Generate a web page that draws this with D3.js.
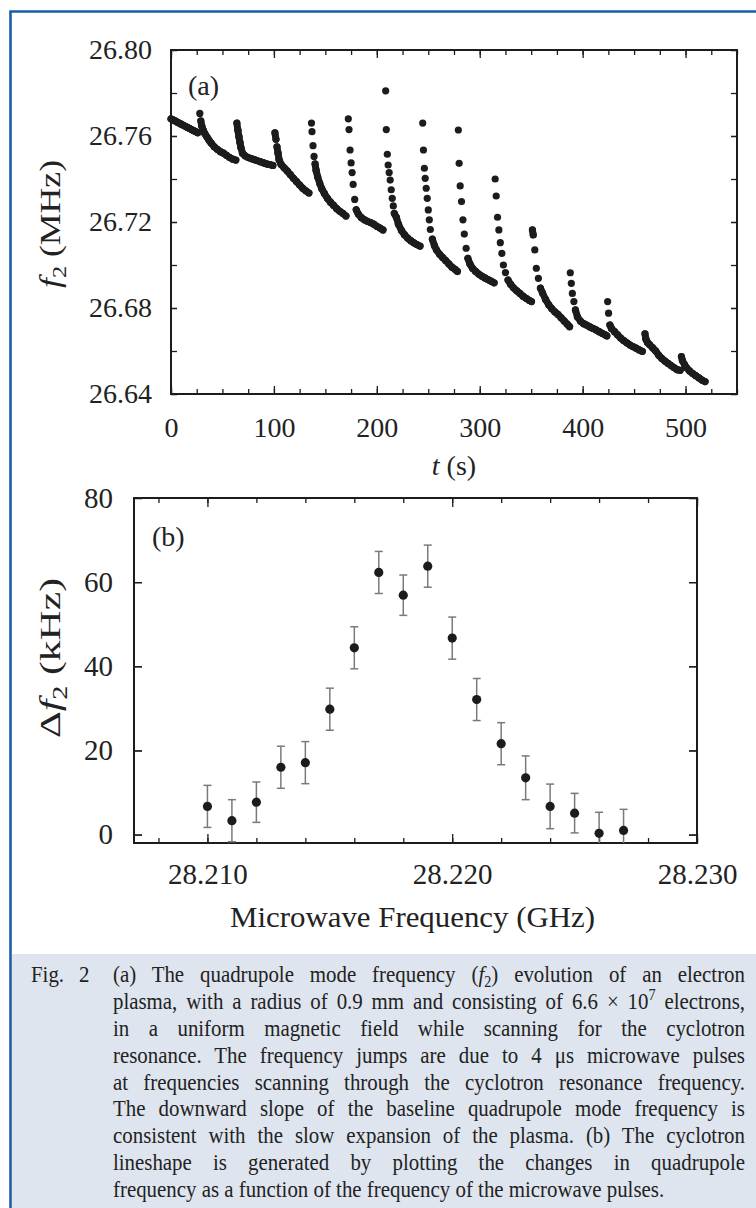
<!DOCTYPE html>
<html>
<head>
<meta charset="utf-8">
<script src="https://cdn.jsdelivr.net/npm/d3@7"></script>
<style>
  body { margin: 0; background: #fff; }
  svg text { font-family: "Liberation Serif", "Times New Roman", serif; fill: #222; }
  .ax text { font-size: 28px; }
  .axb text { font-size: 29px; }
</style>
</head>
<body>
<svg id="fig" width="756" height="1208"></svg>
<script>
// ---- panel (a): f2 (MHz) against t (s), one array per microwave pulse sweep
const sweep0 = [[0,26.768],[2,26.7675],[4,26.767],[6,26.7665],[8,26.766],[10,26.7655],[12,26.765],[14,26.7645],[16,26.764],[18,26.7635],[20,26.763],[22,26.7625],[24,26.762],[26,26.7615]];
const sweep1 = [[28,26.7705],[29,26.767],[30,26.7645],[31.5,26.7625],[33,26.761],[35,26.7595],[37,26.758],[39,26.7567],[42,26.755],[45,26.7538],[48,26.7527],[51,26.752],[54,26.751],[57,26.75],[60,26.7492],[63,26.7488]];
const sweep2 = [[64,26.766],[65,26.7627],[66,26.7597],[67,26.757],[68,26.7545],[69.5,26.752],[72,26.7508],[75,26.75],[78,26.7495],[81,26.749],[84,26.7485],[87,26.748],[90,26.7475],[93,26.747],[96,26.7467],[99,26.7463]];
const sweep3 = [[101,26.7615],[102,26.7585],[103,26.755],[104,26.752],[105,26.749],[107,26.7468],[110,26.7452],[113,26.7437],[116,26.742],[119,26.7403],[122,26.7388],[125,26.7372],[128,26.7357],[131,26.7345],[134,26.7335]];
const sweep4 = [[136.5,26.766],[137,26.762],[138,26.7555],[139,26.7505],[140,26.747],[141,26.744],[142.5,26.741],[144.5,26.738],[146.5,26.7355],[149,26.7333],[152,26.731],[155,26.7292],[158,26.7277],[161,26.7262],[164,26.725],[167,26.724],[170,26.7228]];
const sweep5 = [[172.3,26.768],[173,26.763],[174,26.7535],[175,26.7475],[176,26.743],[177,26.7375],[178.5,26.7305],[180,26.7257],[182,26.7237],[185,26.722],[188,26.721],[191,26.7203],[194,26.7197],[197,26.719],[200,26.718],[203,26.7172],[206,26.7163]];
const sweep6 = [[208.6,26.781],[209.2,26.763],[210.2,26.7515],[211,26.7465],[212,26.743],[213,26.7395],[214,26.735],[215,26.731],[216,26.7275],[217,26.724],[219,26.7222],[221,26.719],[224,26.716],[227,26.714],[230,26.7125],[233,26.7113],[236,26.7103],[239,26.7095],[242,26.7088]];
const sweep7 = [[244.6,26.766],[245.3,26.7535],[246.2,26.745],[247,26.7403],[248,26.7357],[249,26.731],[250,26.7256],[251,26.721],[252,26.7165],[254,26.712],[256,26.709],[258,26.707],[261,26.705],[264,26.7035],[267,26.702],[270,26.7005],[273,26.699],[276,26.698],[278.3,26.697]];
const sweep8 = [[279.2,26.7628],[280,26.7473],[281,26.7368],[282.3,26.7295],[283.7,26.721],[285,26.7144],[286.8,26.7078],[288.5,26.7031],[290.5,26.7005],[293,26.6985],[296,26.697],[299,26.6958],[302,26.6948],[305,26.694],[308,26.6932],[311,26.6925],[314,26.6917]];
const sweep9 = [[315,26.74],[316,26.7321],[317.3,26.7222],[318.6,26.7163],[320,26.7104],[321.5,26.7054],[323,26.7],[325,26.6965],[327.5,26.693],[330,26.691],[333,26.6893],[336,26.688],[339,26.6868],[342,26.6855],[345,26.6845],[348,26.6836],[350.3,26.683]];
const sweep10 = [[351.2,26.7163],[352,26.714],[353.5,26.707],[355,26.6985],[357,26.6938],[359,26.6892],[361,26.687],[364,26.684],[367,26.6815],[370,26.6797],[373,26.6782],[376,26.677],[379,26.6755],[382,26.674],[385,26.6725],[387.3,26.6713]];
const sweep11 = [[388,26.6964],[389,26.6915],[390,26.6868],[391.5,26.683],[393,26.6791],[395,26.6758],[398,26.6738],[401,26.6727],[404,26.672],[407,26.6712],[410,26.6705],[413,26.6698],[416,26.669],[419,26.6682],[422,26.6675],[423.5,26.667]];
const sweep12 = [[424.3,26.683],[425.2,26.6776],[426.5,26.6721],[428,26.6705],[431,26.669],[434,26.6675],[437,26.666],[440,26.6648],[443,26.6638],[446,26.6628],[449,26.662],[452,26.6613],[455,26.6605],[458,26.6598]];
const sweep13 = [[460.6,26.668],[461.5,26.6655],[463,26.664],[465,26.663],[468,26.6615],[471,26.66],[474,26.658],[477,26.6565],[480,26.6553],[483,26.6542],[486,26.6532],[489,26.6522],[492,26.6513],[494.8,26.651]];
const sweep14 = [[496,26.6574],[497,26.6555],[499,26.6537],[501,26.6522],[504,26.6507],[507,26.6495],[510,26.6485],[513,26.6475],[516,26.6465],[519,26.6458]];
const sweeps = [sweep0, sweep1, sweep2, sweep3, sweep4, sweep5, sweep6, sweep7, sweep8, sweep9, sweep10, sweep11, sweep12, sweep13, sweep14];

const tMinorTicks = d3.range(0, 551, 25);
const tMajorTicks = [0, 100, 200, 300, 400, 500];
const f2Ticks = [26.64, 26.66, 26.68, 26.70, 26.72, 26.74, 26.76, 26.78, 26.80];
const f2LabelTicks = [26.64, 26.68, 26.72, 26.76, 26.80];

// ---- panel (b): cyclotron lineshape
const mwFreq = [28.210, 28.211, 28.212, 28.213, 28.214, 28.215, 28.216, 28.217, 28.218, 28.219, 28.220, 28.221, 28.222, 28.223, 28.224, 28.225, 28.226, 28.227];
const deltaF2 = [6.7, 3.3, 7.7, 16.0, 17.1, 29.8, 44.4, 62.3, 56.9, 63.8, 46.7, 32.1, 21.6, 13.5, 6.7, 5.1, 0.3, 1.0];
const deltaErr = [5.0, 5.0, 4.8, 5.0, 5.0, 5.0, 5.0, 5.0, 4.8, 5.0, 5.0, 5.0, 5.0, 5.2, 5.3, 4.7, 5.0, 5.0];
const mwMinorTicks = [28.208, 28.210, 28.212, 28.214, 28.216, 28.218, 28.220, 28.222, 28.224, 28.226, 28.228, 28.230];
const mwLabelTicks = [28.210, 28.220, 28.230];
const dfTicks = [0, 20, 40, 60, 80];

const captionLines = [
  ["(a) The quadrupole mode frequency (", ["i", "f"], ["sub", "2"], ") evolution of an electron"],
  ["plasma, with a radius of 0.9 mm and consisting of 6.6 \u00d7 10", ["sup", "7"], " electrons,"],
  ["in a uniform magnetic field while scanning for the cyclotron"],
  ["resonance. The frequency jumps are due to 4 \u03bcs microwave pulses"],
  ["at frequencies scanning through the cyclotron resonance frequency."],
  ["The downward slope of the baseline quadrupole mode frequency is"],
  ["consistent with the slow expansion of the plasma. (b) The cyclotron"],
  ["lineshape is generated by plotting the changes in quadrupole"],
  ["frequency as a function of the frequency of the microwave pulses."]
];

const svg = d3.select("#fig");
const ink = "#1c1c1c";

// page frame and caption box
svg.append("rect").attr("x", 12).attr("y", 954).attr("width", 744).attr("height", 254).attr("fill", "#dfe5ef");
svg.append("path").attr("d", "M10.5,1208V11.5H756").attr("fill", "none").attr("stroke", "#1b5ea8").attr("stroke-width", 2.6);

function rich(t, parts, size) {
  let shift = 0;
  parts.forEach(p => {
    if (typeof p === "string") {
      t.append("tspan").attr("dy", -shift).text(p);
      shift = 0;
    } else if (p[0] === "i") {
      t.append("tspan").attr("font-style", "italic").text(p[1]);
    } else {
      const d = p[0] === "sub" ? size * 0.22 : -size * 0.36;
      t.append("tspan").attr("font-size", size * 0.68).attr("dy", d).text(p[1]);
      shift = d;
    }
  });
}

// inward ticks on all four sides of a plot box
function boxAxes(g, x, y, cls, spec) {
  const [x0, x1] = x.range(), [y0, y1] = y.range();
  const clean = s => s.select(".domain").remove();
  spec.forEach(s => {
    const bottom = d3.axisBottom(x).tickValues(s.xt).tickSize(-s.xs).tickFormat(s.xf || "").tickPadding(s.xp || 0);
    const top = d3.axisTop(x).tickValues(s.xt).tickSize(-s.xs).tickFormat("");
    const left = d3.axisLeft(y).tickValues(s.yt).tickSize(-s.ys).tickFormat(s.yf || "").tickPadding(s.yp || 0);
    const right = d3.axisRight(y).tickValues(s.yt).tickSize(-s.ys).tickFormat("");
    g.append("g").attr("class", cls).attr("color", ink).attr("transform", `translate(0,${y0})`).call(bottom).call(clean);
    g.append("g").attr("class", cls).attr("color", ink).attr("transform", `translate(0,${y1})`).call(top).call(clean);
    g.append("g").attr("class", cls).attr("color", ink).attr("transform", `translate(${x0},0)`).call(left).call(clean);
    g.append("g").attr("class", cls).attr("color", ink).attr("transform", `translate(${x1},0)`).call(right).call(clean);
  });
  g.selectAll(".tick line").attr("stroke-width", 1.3);
  g.append("rect").attr("x", x0).attr("y", y1).attr("width", x1 - x0).attr("height", y0 - y1)
    .attr("fill", "none").attr("stroke", ink).attr("stroke-width", 2);
}

// ---------- panel (a)
const xa = d3.scaleLinear().domain([0, 550]).range([171, 737]);
const ya = d3.scaleLinear().domain([26.64, 26.80]).range([394, 50]);
const ga = svg.append("g");

boxAxes(ga, xa, ya, "ax", [
  { xt: tMinorTicks, xs: 5, yt: f2Ticks, ys: 6 },
  { xt: tMajorTicks, xs: 8, xf: d3.format("d"), xp: 23, yt: f2LabelTicks, ys: 6, yf: d3.format(".2f"), yp: 19 }
]);

// neighbouring samples that overlap on screen merge into the thick baseline band
const links = sweeps.flatMap(s => d3.pairs(s))
  .filter(([a, b]) => Math.hypot(xa(b[0]) - xa(a[0]), ya(b[1]) - ya(a[1])) < 7.5);
ga.append("g").attr("stroke", ink).attr("stroke-width", 7).attr("stroke-linecap", "round")
  .selectAll("line").data(links).join("line")
  .attr("x1", d => xa(d[0][0])).attr("y1", d => ya(d[0][1]))
  .attr("x2", d => xa(d[1][0])).attr("y2", d => ya(d[1][1]));

ga.append("g").selectAll("circle")
  .data(sweeps.flat())
  .join("circle")
  .attr("cx", d => xa(d[0]))
  .attr("cy", d => ya(d[1]))
  .attr("r", 3.6)
  .attr("fill", ink);

ga.append("text").attr("x", 188).attr("y", 95).attr("font-size", 28).text("(a)");
ga.append("text").attr("x", 454).attr("y", 475).attr("text-anchor", "middle").attr("font-size", 28)
  .call(t => rich(t, [["i", "t"], " (s)"], 28));
ga.append("text").attr("transform", "translate(60,224) rotate(-90)").attr("text-anchor", "middle").attr("font-size", 29)
  .attr("textLength", 128).attr("lengthAdjust", "spacingAndGlyphs")
  .call(t => rich(t, [["i", "f"], ["sub", "2"], " (MHz)"], 29));

// ---------- panel (b)
const xb = d3.scaleLinear().domain([28.207, 28.230]).range([134, 697]);
const yb = d3.scaleLinear().domain([-2, 80]).range([843, 498]);
const gb = svg.append("g");

svg.append("clipPath").attr("id", "clipB").append("rect")
  .attr("x", 134).attr("y", 498).attr("width", 563).attr("height", 345);

boxAxes(gb, xb, yb, "axb", [
  { xt: mwMinorTicks, xs: 5, yt: dfTicks, ys: 8 },
  { xt: mwLabelTicks, xs: 9, xf: d3.format(".3f"), xp: 20, yt: dfTicks, ys: 8, yf: d3.format("d"), yp: 21 }
]);

const pb = mwFreq.map((f, i) => ({ f, v: deltaF2[i], e: deltaErr[i] }));
const bars = gb.append("g").attr("clip-path", "url(#clipB)").attr("stroke", "#7a7a7a").attr("stroke-width", 1.5);
bars.selectAll("line.bar").data(pb).join("line").attr("class", "bar")
  .attr("x1", d => xb(d.f)).attr("x2", d => xb(d.f))
  .attr("y1", d => yb(d.v - d.e)).attr("y2", d => yb(d.v + d.e));
bars.selectAll("line.capt").data(pb).join("line").attr("class", "capt")
  .attr("x1", d => xb(d.f) - 4).attr("x2", d => xb(d.f) + 4)
  .attr("y1", d => yb(d.v + d.e)).attr("y2", d => yb(d.v + d.e));
bars.selectAll("line.capb").data(pb).join("line").attr("class", "capb")
  .attr("x1", d => xb(d.f) - 4).attr("x2", d => xb(d.f) + 4)
  .attr("y1", d => yb(d.v - d.e)).attr("y2", d => yb(d.v - d.e));
gb.append("g").selectAll("circle").data(pb).join("circle")
  .attr("cx", d => xb(d.f)).attr("cy", d => yb(d.v)).attr("r", 4.6).attr("fill", ink);

gb.append("text").attr("x", 152).attr("y", 546).attr("font-size", 28).text("(b)");
gb.append("text").attr("x", 230).attr("y", 927).attr("font-size", 29)
  .attr("textLength", 365).attr("lengthAdjust", "spacingAndGlyphs").text("Microwave Frequency (GHz)");
gb.append("text").attr("transform", "translate(60,658) rotate(-90)").attr("text-anchor", "middle").attr("font-size", 30)
  .attr("textLength", 160).attr("lengthAdjust", "spacingAndGlyphs")
  .call(t => rich(t, ["\u0394", ["i", "f"], ["sub", "2"], " (kHz)"], 30));

// ---------- caption, justified, set slightly condensed
const capX = 113, capW = 632, capY = 982, capLead = 26.9, capSize = 24, squeeze = 0.87;
const gc = svg.append("g").attr("font-size", capSize).attr("transform", `scale(${squeeze},1)`);
gc.append("text").attr("x", 31 / squeeze).attr("y", capY).text("Fig.");
gc.append("text").attr("x", 79 / squeeze).attr("y", capY).text("2");
captionLines.forEach((parts, i) => {
  const t = gc.append("text").attr("x", capX / squeeze).attr("y", capY + i * capLead);
  rich(t, parts, capSize);
  if (i === captionLines.length - 1) return;
  const w = t.node().getComputedTextLength(), target = capW / squeeze;
  const spaces = parts.filter(p => typeof p === "string").join("").split(" ").length - 1;
  if (w < target) t.style("word-spacing", ((target - w) / spaces) + "px");
  else t.attr("textLength", target).attr("lengthAdjust", "spacingAndGlyphs");
});
</script>
</body>
</html>
